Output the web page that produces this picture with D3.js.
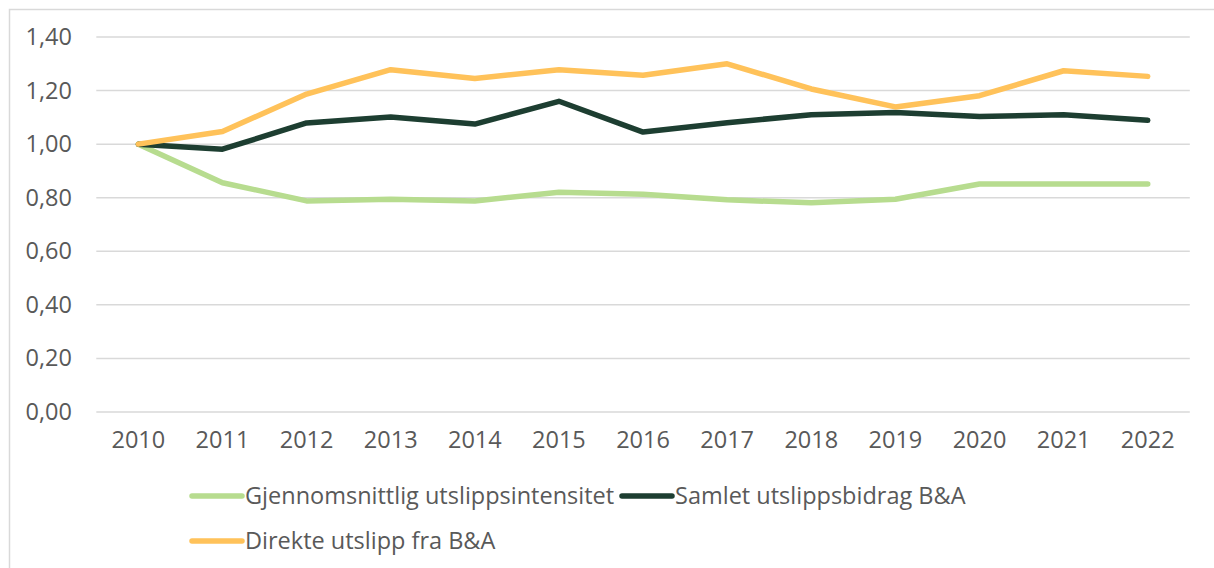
<!DOCTYPE html>
<html>
<head>
<meta charset="utf-8">
<script src="https://cdn.jsdelivr.net/npm/d3@7"></script>
<style>
  html, body { margin: 0; padding: 0; background: #fff; }
  svg { display: block; }
  text { font-family: "Open Sans", Lato, sans-serif; fill: #595959; }
</style>
</head>
<body>
<svg id="chart" width="1214" height="568"></svg>
<script>
const years = ["2010","2011","2012","2013","2014","2015","2016","2017","2018","2019","2020","2021","2022"];
const seriesNames = ["Gjennomsnittlig utslippsintensitet", "Samlet utslippsbidrag B&A", "Direkte utslipp fra B&A"];
const gjennomsnittlig = [1.00, 0.856, 0.788, 0.794, 0.788, 0.820, 0.813, 0.792, 0.781, 0.794, 0.851, 0.851, 0.851];
const samlet = [1.00, 0.981, 1.079, 1.101, 1.075, 1.160, 1.045, 1.080, 1.110, 1.118, 1.103, 1.110, 1.089];
const direkte = [1.00, 1.047, 1.187, 1.278, 1.245, 1.278, 1.257, 1.300, 1.206, 1.139, 1.181, 1.274, 1.253];
const yTicks = [0, 0.2, 0.4, 0.6, 0.8, 1.0, 1.2, 1.4];
const colors = ["#b7dc8f", "#1d3e31", "#ffc25a"];

const seriesData = [gjennomsnittlig, samlet, direkte];
const FONT = "'Open Sans', Lato, sans-serif";
const FS = 23.5;
const FW = 400;

const svg = d3.select("#chart");

// outer frame (left and top edges visible)
svg.append("path")
  .attr("d", "M9.5,568 L9.5,9.5 L1214,9.5")
  .attr("fill", "none").attr("stroke", "#d9d9d9").attr("stroke-width", 1.5);

const x = d3.scaleBand().domain(years).range([96.3, 1189.8]);
const y = d3.scaleLinear().domain([0, 1.4]).range([412, 37]);

// gridlines
svg.append("g").selectAll("line").data(yTicks).join("line")
  .attr("x1", 96.3).attr("x2", 1189.8)
  .attr("y1", d => y(d)).attr("y2", d => y(d))
  .attr("stroke", "#d9d9d9").attr("stroke-width", 1.5);

// y axis labels
const fmt = d => d3.format(".2f")(d).replace(".", ",");
const yAxis = d3.axisLeft(y).tickValues(yTicks).tickFormat(fmt).tickSize(0).tickPadding(0);
const gy = svg.append("g").attr("transform", "translate(72,0)").call(yAxis);
gy.select(".domain").remove();
gy.selectAll("text").attr("font-size", FS).attr("font-weight", FW).attr("font-family", FONT).attr("fill", "#595959");

// x axis labels
const xAxis = d3.axisBottom(x).tickSize(0).tickPadding(0);
const gx = svg.append("g").attr("transform", "translate(0,431)").call(xAxis);
gx.select(".domain").remove();
gx.selectAll("text").attr("font-size", FS).attr("font-weight", FW).attr("font-family", FONT).attr("fill", "#595959");

// lines
const line = d3.line()
  .x((d, i) => x(years[i]) + x.bandwidth() / 2)
  .y(d => y(d));

svg.append("g").selectAll("path").data(seriesData).join("path")
  .attr("d", d => line(d))
  .attr("fill", "none")
  .attr("stroke", (d, i) => colors[i])
  .attr("stroke-width", 5.5)
  .attr("stroke-linecap", "round")
  .attr("stroke-linejoin", "round");

// legend
const legendItems = [
  { name: seriesNames[0], color: colors[0], x: 190, y: 496 },
  { name: seriesNames[1], color: colors[1], x: 620, y: 496 },
  { name: seriesNames[2], color: colors[2], x: 190, y: 541 }
];
const lg = svg.append("g").selectAll("g").data(legendItems).join("g")
  .attr("transform", d => `translate(${d.x},${d.y})`);
lg.append("line")
  .attr("x1", 2).attr("x2", 52).attr("y1", 0).attr("y2", 0)
  .attr("stroke", d => d.color).attr("stroke-width", 5.5).attr("stroke-linecap", "round");
lg.append("text")
  .attr("x", 55).attr("y", 0).attr("dy", "0.35em")
  .attr("font-size", FS).attr("font-weight", FW).attr("font-family", FONT)
  .text(d => d.name);
</script>
</body>
</html>
